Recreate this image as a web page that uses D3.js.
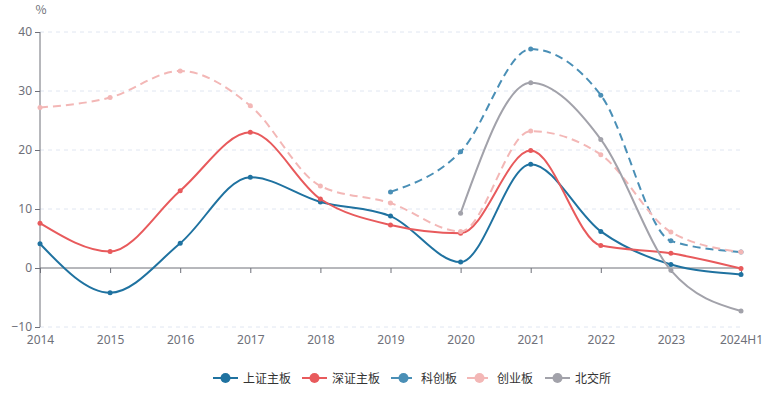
<!doctype html>
<html>
<head>
<meta charset="utf-8">
<script src="https://d3js.org/d3.v7.min.js"></script>
<style>
body { margin: 0; background: #fff; }
text { font-family: "Noto Sans CJK SC", "Noto Sans", sans-serif; }
</style>
</head>
<body>
<svg width="770" height="394"></svg>
<script>
// data
var years = ["2014", "2015", "2016", "2017", "2018", "2019", "2020", "2021", "2022", "2023", "2024H1"];
var yTicks = [-10, 0, 10, 20, 30, 40];
var names = ["上证主板", "深证主板", "科创板", "创业板", "北交所"];
var colors = ["#1f72a0", "#e85a5c", "#4a8fb6", "#f3b7b6", "#a2a2aa"];
var dashed = [false, false, true, true, false];

var shMain = [4.1, -4.2, 4.2, 15.4, 11.2, 8.8, 1.0, 17.6, 6.2, 0.6, -1.1];
var szMain = [7.6, 2.8, 13.1, 23.0, 11.7, 7.3, 5.9, 19.9, 3.8, 2.5, -0.1];
var star = [null, null, null, null, null, 12.9, 19.7, 37.1, 29.3, 4.6, 2.7];
var chinext = [27.2, 28.9, 33.4, 27.5, 13.9, 11.0, 6.2, 23.2, 19.2, 6.1, 2.7];
var bse = [null, null, null, null, null, null, 9.3, 31.4, 21.8, -0.4, -7.3];
var series = [shMain, szMain, star, chinext, bse];

var svg = d3.select("svg"),
    plotL = 40, plotR = 741, plotT = 32, plotB = 327;

var x = d3.scalePoint().domain(years).range([plotL, plotR]);
var y = d3.scaleLinear().domain([-10, 40]).range([plotB, plotT]);

// grid
svg.append("g").selectAll("line")
  .data(yTicks.filter(d => d != 0))
  .enter().append("line")
  .attr("x1", plotL).attr("x2", plotR)
  .attr("y1", d => y(d)).attr("y2", d => y(d))
  .attr("stroke", "#e0e6f1")
  .attr("stroke-dasharray", "4,4");

// y axis
var yAxis = svg.append("g")
  .attr("transform", "translate(" + plotL + ",0)")
  .call(d3.axisLeft(y).tickValues(yTicks).tickSize(5).tickPadding(3));
// x axis on zero
var xAxis = svg.append("g")
  .attr("transform", "translate(0," + y(0) + ")")
  .call(d3.axisBottom(x).tickSize(5).tickPadding(0));
xAxis.selectAll("text").attr("y", y(-10) - y(0) + 8);

[yAxis, xAxis].forEach(function (a) {
  a.select(".domain").attr("stroke", "#6e7079");
  a.selectAll(".tick line").attr("stroke", "#6e7079");
  a.selectAll("text").attr("fill", "#6e7079").style("font-size", "12px")
    .style("font-family", "'Noto Sans', sans-serif");
});
yAxis.select(".domain").attr("d", "M0," + plotB + "V" + plotT);
xAxis.select(".domain").attr("d", "M" + plotL + ",0H" + plotR);

svg.append("text")
  .attr("x", 41).attr("y", 14)
  .attr("text-anchor", "middle")
  .attr("fill", "#6e7079")
  .style("font-size", "12px")
  .text("%");

var line = d3.line()
  .defined(d => d.v != null)
  .x(d => x(d.year))
  .y(d => y(d.v))
  .curve(d3.curveMonotoneX);

series.forEach(function (s, i) {
  var pts = s.map((v, j) => ({ year: years[j], v: v }));
  svg.append("path")
    .datum(pts)
    .attr("d", line)
    .attr("fill", "none")
    .attr("stroke", colors[i])
    .attr("stroke-width", 2)
    .attr("stroke-dasharray", dashed[i] ? "8,5" : null);
  svg.append("g").selectAll("circle")
    .data(pts.filter(d => d.v != null))
    .enter().append("circle")
    .attr("cx", d => x(d.year))
    .attr("cy", d => y(d.v))
    .attr("r", 2.5)
    .attr("fill", colors[i]);
});

// legend
var legendX = [213, 302, 391, 467, 545];
var lg = svg.append("g").selectAll("g")
  .data(names)
  .enter().append("g")
  .attr("transform", (d, i) => "translate(" + legendX[i] + ",378)");
lg.append("line")
  .attr("x1", 0).attr("x2", 25)
  .attr("stroke", (d, i) => colors[i])
  .attr("stroke-width", 2)
  .attr("stroke-dasharray", (d, i) => dashed[i] ? "8,5" : null);
lg.append("circle")
  .attr("cx", 12.5).attr("r", 5)
  .attr("fill", (d, i) => colors[i]);
lg.append("text")
  .attr("x", 30).attr("y", 4.5)
  .attr("fill", "#333")
  .style("font-size", "12px")
  .text(d => d);
</script>
</body>
</html>
